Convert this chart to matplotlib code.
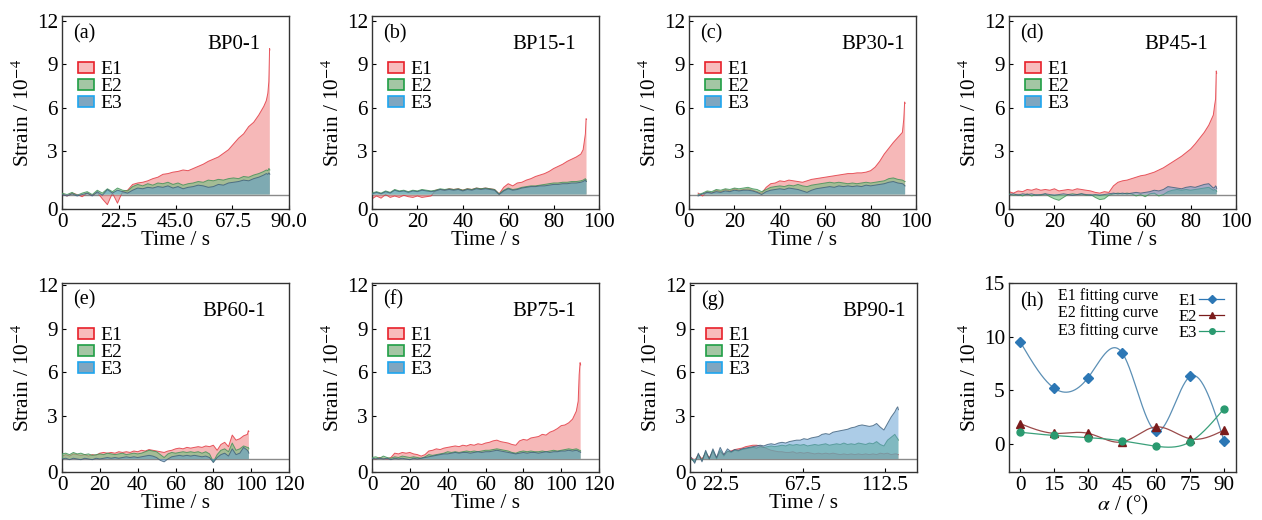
import numpy as np
import matplotlib
matplotlib.use("Agg")
import matplotlib.pyplot as plt
from matplotlib.patches import Patch
from matplotlib.lines import Line2D

plt.rcParams['font.family'] = ['Liberation Serif', 'DejaVu Serif']
plt.rcParams['mathtext.fontset'] = 'stix'

# ---- time-series data (strain, 1e-4) ----
t_a = np.r_[np.arange(0, 81, 2), 81, 81.6, 82, 82.3, 82.4]
a_e1 = [0.05, -0.1, 0.1, 0.0, -0.15, 0.1, -0.05, 0.15, -0.3, -0.7, 0.1, -0.6, 0.2, 0.3, 0.7, 0.8, 0.85,
        0.95, 1.1, 1.2, 1.4, 1.45, 1.55, 1.6, 1.7, 1.65, 1.8, 1.95, 2.1, 2.3, 2.45, 2.6, 2.85, 3.1,
        3.5, 3.9, 4.2, 4.7, 5.0, 5.5, 6.1, 6.5, 7.0, 7.8, 10.1, 10.0]
a_e2 = [0.1, 0.0, 0.15, -0.05, 0.1, 0.2, 0.0, 0.3, 0.1, 0.4, 0.2, 0.45, 0.3, 0.25, 0.55, 0.7, 0.6,
        0.75, 0.65, 0.8, 0.75, 0.85, 0.7, 0.8, 0.65, 0.75, 0.8, 0.9, 0.85, 1.0, 0.95, 1.05, 1.0, 1.1,
        1.15, 1.1, 1.25, 1.2, 1.35, 1.45, 1.6, 1.7, 1.65, 1.8, 1.75, 1.7]
a_e3 = [0.0, -0.1, 0.05, -0.1, 0.0, 0.1, -0.1, 0.2, -0.05, 0.35, 0.1, 0.3, 0.2, 0.1, 0.3, 0.45, 0.4,
        0.5, 0.45, 0.55, 0.5, 0.6, 0.45, 0.55, 0.4, 0.5, 0.55, 0.65, 0.6, 0.5, 0.55, 0.7, 0.65, 0.8,
        0.85, 0.9, 1.0, 0.95, 1.1, 1.2, 1.35, 1.45, 1.4, 1.5, 1.45, 1.4]

t_b = np.r_[np.arange(0, 93, 2), 93, 94, 94.3, 94.5]
b_e1 = [-0.3, -0.1, -0.25, 0.0, -0.2, -0.1, -0.2, -0.05, -0.15, -0.2, -0.1, -0.2, -0.15, -0.1, 0.3,
        0.35, 0.3, 0.4, 0.35, 0.4, 0.3, 0.4, 0.35, 0.45, 0.4, 0.45, 0.4, 0.35, 0.05, 0.5, 0.75, 0.6,
        0.8, 0.85, 1.0, 1.1, 1.25, 1.35, 1.45, 1.6, 1.8, 1.95, 2.1, 2.3, 2.45, 2.6, 2.8, 3.1, 4.2,
        5.25, 5.2]
b_e2 = [0.1, 0.2, 0.1, 0.25, 0.15, 0.35, 0.25, 0.3, 0.2, 0.3, 0.25, 0.35, 0.3, 0.25, 0.3, 0.4, 0.35,
        0.4, 0.35, 0.4, 0.3, 0.4, 0.35, 0.45, 0.4, 0.45, 0.4, 0.35, 0.05, 0.3, 0.45, 0.35, 0.4, 0.5,
        0.55, 0.6, 0.6, 0.65, 0.7, 0.75, 0.8, 0.8, 0.85, 0.85, 0.9, 0.9, 0.95, 1.0, 1.1, 1.0, 1.0]
b_e3 = [0.05, 0.15, 0.05, 0.2, 0.1, 0.3, 0.2, 0.25, 0.15, 0.25, 0.2, 0.3, 0.25, 0.2, 0.25, 0.35, 0.3,
        0.35, 0.3, 0.35, 0.25, 0.35, 0.3, 0.4, 0.35, 0.4, 0.35, 0.3, 0.0, 0.25, 0.4, 0.3, 0.35, 0.45,
        0.5, 0.55, 0.55, 0.6, 0.6, 0.65, 0.7, 0.7, 0.75, 0.75, 0.8, 0.8, 0.85, 0.9, 1.0, 0.9, 0.9]

t_c = np.r_[np.arange(4, 95, 2), 94.6, 95, 95.2]
c_e1 = [0.1, -0.1, 0.2, 0.1, 0.3, 0.2, 0.35, 0.25, 0.4, 0.3, 0.35, 0.4, 0.3, 0.2, 0.1, 0.5, 0.75,
        0.8, 0.95, 0.9, 1.0, 0.95, 0.9, 0.85, 0.95, 1.05, 1.1, 1.15, 1.2, 1.25, 1.3, 1.35, 1.4, 1.45,
        1.45, 1.5, 1.5, 1.55, 1.65, 1.9, 2.3, 2.8, 3.2, 3.6, 3.95, 4.3, 5.2, 6.4, 6.3]
c_e2 = [0.0, 0.1, 0.25, 0.2, 0.35, 0.3, 0.4, 0.35, 0.45, 0.4, 0.45, 0.5, 0.4, 0.35, 0.2, 0.35, 0.5,
        0.55, 0.6, 0.55, 0.65, 0.6, 0.7, 0.6, 0.55, 0.65, 0.7, 0.75, 0.8, 0.85, 0.8, 0.85, 0.8, 0.75,
        0.8, 0.75, 0.8, 0.85, 0.8, 0.85, 0.9, 0.95, 1.1, 1.15, 1.05, 1.0, 0.95, 0.9, 0.9]
c_e3 = [-0.1, 0.05, 0.15, 0.1, 0.2, 0.15, 0.25, 0.2, 0.3, 0.25, 0.3, 0.3, 0.25, 0.15, 0.0, 0.2, 0.3,
        0.35, 0.4, 0.35, 0.45, 0.4, 0.35, 0.25, 0.15, 0.3, 0.4, 0.45, 0.5, 0.55, 0.5, 0.6, 0.55, 0.6,
        0.55, 0.6, 0.55, 0.65, 0.6, 0.65, 0.7, 0.75, 0.85, 0.9, 0.8, 0.75, 0.7, 0.6, 0.6]

t_d = np.r_[np.arange(0, 91, 2), 90.6, 91, 91.3, 91.5]
d_e1 = [0.2, 0.1, 0.25, 0.2, 0.35, 0.3, 0.4, 0.3, 0.35, 0.3, 0.4, 0.25, 0.3, 0.35, 0.3, 0.4, 0.35,
        0.3, 0.25, 0.15, 0.1, 0.2, 0.15, 0.6, 0.85, 0.95, 1.0, 1.1, 1.2, 1.3, 1.35, 1.45, 1.55, 1.7,
        1.85, 2.05, 2.25, 2.45, 2.65, 2.9, 3.15, 3.5, 3.9, 4.3, 4.8, 5.5, 6.2, 6.6, 8.55, 8.4]
d_e2 = [0.05, -0.05, 0.0, -0.1, 0.05, -0.1, 0.0, -0.05, 0.05, -0.15, -0.3, -0.4, -0.2, 0.0, 0.05,
        0.0, 0.05, -0.05, 0.0, -0.2, -0.35, -0.3, -0.05, 0.05, 0.1, 0.05, 0.1, 0.05, -0.1, 0.0, -0.15,
        0.05, 0.1, -0.1, 0.0, 0.2, 0.3, 0.35, 0.3, 0.35, 0.3, 0.35, 0.4, 0.45, 0.5, 0.3, 0.35, 0.3,
        0.3, 0.2]
d_e3 = [0.0, 0.05, -0.05, 0.05, 0.0, 0.05, -0.05, 0.0, 0.05, 0.0, -0.05, 0.0, 0.05, 0.0, -0.05, 0.0,
        0.05, 0.0, -0.05, 0.0, -0.05, 0.0, 0.05, 0.1, 0.05, 0.1, 0.05, 0.1, 0.15, 0.1, 0.15, 0.2, 0.3,
        0.25, 0.35, 0.55, 0.5, 0.45, 0.4, 0.5, 0.55, 0.5, 0.6, 0.7, 0.75, 0.45, 0.5, 0.6, 0.55, 0.4]

t_e = np.r_[np.arange(0, 99, 2), 98.5, 98.8]
e_e1 = [0.2, 0.3, 0.2, 0.35, 0.3, 0.25, 0.3, 0.2, 0.3, 0.25, 0.4, 0.45, 0.4, 0.45, 0.4, 0.5, 0.45,
        0.5, 0.45, 0.55, 0.5, 0.6, 0.55, 0.65, 0.6, 0.55, 0.5, 0.45, 0.55, 0.6, 0.7, 0.75, 0.7, 0.8,
        0.75, 0.8, 0.85, 0.8, 0.9, 0.85, 0.95, 0.6, 1.0, 1.15, 0.85, 1.65, 1.3, 1.4, 1.6, 1.7, 1.95,
        1.9]
e_e2 = [0.35, 0.4, 0.3, 0.45, 0.35, 0.4, 0.3, 0.35, 0.25, 0.3, 0.35, 0.3, 0.4, 0.35, 0.3, 0.35, 0.4,
        0.3, 0.35, 0.4, 0.35, 0.4, 0.5, 0.6, 0.55, 0.5, 0.3, 0.1, 0.35, 0.45, 0.4, 0.45, 0.5, 0.45,
        0.5, 0.45, 0.5, 0.4, 0.5, 0.35, -0.2, 0.3, 0.6, 0.7, 0.5, 1.1, 0.6, 0.7, 0.9, 0.8, 0.8, 0.7]
e_e3 = [0.0, 0.05, -0.05, 0.05, 0.0, -0.05, 0.05, 0.0, -0.05, 0.05, 0.0, 0.05, 0.1, 0.05, 0.1, 0.05,
        0.1, 0.15, 0.1, 0.15, 0.1, 0.15, 0.2, 0.25, 0.2, 0.1, -0.1, -0.2, 0.0, 0.15, 0.2, 0.25, 0.2,
        0.25, 0.2, 0.25, 0.2, 0.15, 0.2, 0.1, -0.25, 0.1, 0.3, 0.4, 0.2, 0.7, 0.3, 0.4, 0.8, 0.6, 0.5,
        0.4]

t_f = np.r_[np.arange(0, 109, 2), 109, 109.5, 110, 110.3]
f_e1 = [0.05, 0.0, 0.1, 0.05, 0.0, 0.1, 0.4, 0.35, 0.45, 0.4, 0.45, 0.35, 0.3, 0.2, 0.3, 0.55, 0.6,
        0.7, 0.65, 0.75, 0.8, 0.85, 0.9, 0.85, 0.95, 0.9, 1.0, 0.95, 1.05, 1.0, 1.1, 1.15, 1.25, 1.3,
        1.2, 1.15, 1.1, 1.0, 0.95, 1.25, 1.35, 1.3, 1.45, 1.5, 1.55, 1.7, 1.65, 1.85, 1.95, 2.1, 2.3,
        2.35, 2.5, 2.75, 3.3, 4.0, 5.8, 6.65, 6.5]
f_e2 = [0.1, 0.15, 0.05, 0.2, 0.1, 0.05, 0.15, 0.1, 0.2, 0.15, 0.1, 0.15, 0.1, 0.05, 0.15, 0.3, 0.25,
        0.3, 0.35, 0.4, 0.5, 0.45, 0.5, 0.45, 0.5, 0.55, 0.5, 0.55, 0.5, 0.55, 0.6, 0.6, 0.65, 0.7,
        0.65, 0.6, 0.55, 0.45, 0.4, 0.5, 0.55, 0.5, 0.55, 0.5, 0.5, 0.55, 0.5, 0.55, 0.6, 0.55, 0.6,
        0.65, 0.7, 0.65, 0.7, 0.65, 0.6, 0.6, 0.55]
f_e3 = [0.05, 0.0, 0.05, 0.0, 0.05, -0.05, 0.05, 0.0, 0.05, 0.0, -0.05, 0.05, 0.0, 0.05, 0.1, 0.15,
        0.2, 0.25, 0.3, 0.35, 0.35, 0.4, 0.45, 0.4, 0.45, 0.45, 0.4, 0.45, 0.5, 0.45, 0.5, 0.5, 0.55,
        0.6, 0.55, 0.5, 0.45, 0.4, 0.35, 0.4, 0.45, 0.4, 0.45, 0.45, 0.4, 0.45, 0.5, 0.45, 0.5, 0.5,
        0.55, 0.55, 0.6, 0.55, 0.6, 0.55, 0.5, 0.5, 0.45]

t_g = np.r_[np.arange(6, 119, 2), 119, 119.6, 120]
g_e1 = [0.1, -0.1, 0.3, 0.0, 0.4, 0.1, 0.5, 0.1, 0.5, 0.3, 0.5, 0.55, 0.65, 0.7, 0.75, 0.85, 0.9,
        0.95, 0.95, 0.9, 0.8, 0.7, 0.6, 0.55, 0.5, 0.5, 0.45, 0.45, 0.5, 0.4, 0.45, 0.4, 0.45, 0.4,
        0.35, 0.4, 0.35, 0.4, 0.35, 0.4, 0.35, 0.3, 0.35, 0.3, 0.35, 0.3, 0.35, 0.3, 0.35, 0.3, 0.35,
        0.3, 0.4, 0.35, 0.4, 0.3, 0.35, 0.35, 0.3, 0.3]
g_e2 = [0.0, -0.2, 0.3, -0.1, 0.5, 0.0, 0.6, 0.0, 0.6, 0.2, 0.55, 0.45, 0.6, 0.55, 0.65, 0.7, 0.75,
        0.8, 0.75, 0.85, 0.8, 0.85, 0.9, 0.85, 0.9, 0.95, 0.9, 1.0, 0.95, 1.0, 0.95, 1.0, 0.9, 0.95,
        1.0, 0.95, 1.0, 1.05, 0.95, 1.0, 1.05, 1.0, 1.1, 1.0, 1.05, 1.0, 1.1, 1.05, 1.0, 1.1, 1.05,
        1.2, 1.0, 0.9, 1.3, 1.5, 1.7, 1.5, 1.4, 1.3]
g_e3 = [0.1, -0.3, 0.4, -0.2, 0.6, 0.0, 0.7, 0.1, 0.8, 0.3, 0.7, 0.5, 0.65, 0.6, 0.7, 0.75, 0.8,
        0.85, 0.9, 0.95, 0.9, 1.0, 1.05, 1.0, 1.1, 1.15, 1.1, 1.2, 1.25, 1.3, 1.3, 1.4, 1.35, 1.45,
        1.5, 1.55, 1.7, 1.75, 1.7, 1.85, 1.9, 1.95, 2.0, 2.05, 2.15, 2.2, 2.3, 2.35, 2.3, 2.25, 2.3,
        2.45, 2.2, 2.0, 2.45, 2.9, 3.25, 3.5, 3.6, 3.4]

# ---- panel (h): peak strain vs bedding angle ----
angles = [0, 15, 30, 45, 60, 75, 90]
h_e1 = [9.5, 5.2, 6.2, 8.5, 1.2, 6.3, 0.3]
h_e2 = [1.9, 1.0, 1.0, 0.2, 1.6, 0.5, 1.3]
h_e3 = [1.1, 0.8, 0.6, 0.3, -0.2, 0.2, 3.3]

tags = ['(a)', '(b)', '(c)', '(d)', '(e)', '(f)', '(g)', '(h)']
names = ['BP0-1', 'BP15-1', 'BP30-1', 'BP45-1', 'BP60-1', 'BP75-1', 'BP90-1']

fill_c = ['#f08a8a', '#6ec07e', '#5a9ad0']
fill_a = [0.6, 0.6, 0.5]
line_c = ['#e2323c', '#3f8f55', '#3d5d78']
leg_face = ['#f8bcbc', '#a4c6a4', '#7fa6c0']
leg_edge = ['#e8202a', '#1f9e45', '#1ea5ef']


def natural_spline(x, y, xs):
    x = np.asarray(x, float)
    y = np.asarray(y, float)
    n = len(x)
    h = np.diff(x)
    A = np.zeros((n, n))
    b = np.zeros(n)
    A[0, 0] = A[-1, -1] = 1
    for i in range(1, n - 1):
        A[i, i - 1] = h[i - 1]
        A[i, i] = 2 * (h[i - 1] + h[i])
        A[i, i + 1] = h[i]
        b[i] = 3 * ((y[i + 1] - y[i]) / h[i] - (y[i] - y[i - 1]) / h[i - 1])
    c = np.linalg.solve(A, b)
    idx = np.clip(np.searchsorted(x, xs) - 1, 0, n - 2)
    dx = xs - x[idx]
    bb = (y[idx + 1] - y[idx]) / h[idx] - h[idx] * (2 * c[idx] + c[idx + 1]) / 3
    d = (c[idx + 1] - c[idx]) / (3 * h[idx])
    return y[idx] + bb * dx + c[idx] * dx ** 2 + d * dx ** 3


W, H = 1262, 520
fig = plt.figure(figsize=(W / 100, H / 100), dpi=100)

lefts = [62, 372, 689, 1009, 62, 372, 690, 1009]
tops = [16] * 4 + [283] * 4
bots = [209] * 4 + [472] * 4
axes = []
for l, tp, bt in zip(lefts, tops, bots):
    axes.append(fig.add_axes([l / W, 1 - bt / H, 227 / W, (bt - tp) / H]))

series = [
    (t_a, a_e1, a_e2, a_e3), (t_b, b_e1, b_e2, b_e3), (t_c, c_e1, c_e2, c_e3),
    (t_d, d_e1, d_e2, d_e3), (t_e, e_e1, e_e2, e_e3), (t_f, f_e1, f_e2, f_e3),
    (t_g, g_e1, g_e2, g_e3),
]
xlims = [(0, 90), (0, 100), (0, 100), (0, 100), (0, 120), (0, 120), (5.4, 130.2)]
xticks = [[0, 22.5, 45, 67.5, 90], list(range(0, 101, 20)), list(range(0, 101, 20)),
          list(range(0, 101, 20)), list(range(0, 121, 20)), list(range(0, 121, 20)),
          [5.4, 22.5, 67.5, 112.5]]
xlabels = [['0', '22.5', '45.0', '67.5', '90.0'], None, None, None, None, None,
           ['0', '22.5', '67.5', '112.5']]
name_x = [0.64, 0.62, 0.67, 0.595, 0.62, 0.62, 0.67]

FS = 15.3
for k, ax in enumerate(axes):
    for s in ax.spines.values():
        s.set_color('#333333')
        s.set_linewidth(1.0)
    ax.tick_params(direction='in', length=3, width=0.8, labelsize=FS, pad=3)

for k in range(7):
    ax = axes[k]
    t, e1, e2, e3 = series[k]
    ax.axhline(0, color='#8a8a8a', lw=1.0, zorder=1)
    for j, y in enumerate([e1, e2, e3]):
        ax.fill_between(t, 0, y, facecolor=fill_c[j], alpha=fill_a[j], lw=0, zorder=2 + j)
        ax.plot(t, y, color=line_c[j], lw=0.7, alpha=0.8, zorder=2 + j)
    ax.set_xlim(*xlims[k])
    ax.set_xticks(xticks[k])
    if xlabels[k] is not None:
        ax.set_xticklabels(xlabels[k])
    if k < 4:
        ax.set_ylim(-1.0, 12.35)
        ax.set_yticks([-1.0, 3, 6, 9, 12])
    else:
        ax.set_ylim(-0.9, 12.15)
        ax.set_yticks([-0.9, 3, 6, 9, 12])
    ax.set_yticklabels(['0', '3', '6', '9', '12'])
    ax.set_xlabel('Time / s', fontsize=FS, labelpad=-1)
    ax.set_ylabel('Strain / 10$^{-4}$', fontsize=FS, labelpad=2)
    ax.text(0.05, 0.91, tags[k], transform=ax.transAxes, fontsize=14.5, va='center', ha='left')
    ax.text(name_x[k], 0.85, names[k], transform=ax.transAxes, fontsize=15, va='center', ha='left')
    handles = [Patch(facecolor=leg_face[j], edgecolor=leg_edge[j], lw=1.2) for j in range(3)]
    ax.legend(handles, ['E1', 'E2', 'E3'], loc='upper left', bbox_to_anchor=(0.07, 0.765),
              frameon=False, fontsize=14, handlelength=0.85, handleheight=0.5,
              handletextpad=0.3, labelspacing=0.0, borderpad=0, borderaxespad=0)

# ---- panel (h) ----
ax = axes[7]
xs = np.linspace(0, 90, 300)
pt_c = ['#2c77b5', '#7b1c1c', '#2a9a70']
cur_c = ['#5b8fb5', '#9a4a4a', '#3aa07a']
marks = ['D', '^', 'o']
msz = [5.5, 6, 5]
curves = []
for j, y in enumerate([h_e1, h_e2, h_e3]):
    ln, = ax.plot(xs, natural_spline(angles, y, xs), color=cur_c[j], lw=0.9, zorder=2)
    curves.append(ln)
    ax.plot(angles, y, ls='none', marker=marks[j], ms=msz[j], color=pt_c[j], zorder=3)
ax.set_xlim(-5, 95.3)
ax.set_xticks(angles)
ax.set_ylim(-2.6, 15)
ax.set_yticks([0, 5, 10, 15])
ax.set_xlabel('$\\alpha$ / (°)', fontsize=FS, labelpad=-1)
ax.set_ylabel('Strain / 10$^{-4}$', fontsize=FS, labelpad=2)
ax.text(0.05, 0.9, tags[7], transform=ax.transAxes, fontsize=14.5, va='center', ha='left')
leg1 = ax.legend(curves, ['E1 fitting curve', 'E2 fitting curve', 'E3 fitting curve'],
                 loc='upper left', bbox_to_anchor=(0.17, 1.03), frameon=False, fontsize=11.5,
                 handlelength=0, handletextpad=0, labelspacing=0.1, borderpad=0.15)
ax.add_artist(leg1)
mh = [Line2D([], [], color=pt_c[j], marker=marks[j], ms=msz[j] - 1, lw=0.9) for j in range(3)]
ax.legend(mh, ['E1', 'E2', 'E3'], loc='upper right', bbox_to_anchor=(1.0, 1.01), frameon=False,
          fontsize=12, markerfirst=False, handlelength=1.5, handletextpad=0.15,
          labelspacing=0.0, borderpad=0.2)

fig.savefig('out.png', dpi=100)
